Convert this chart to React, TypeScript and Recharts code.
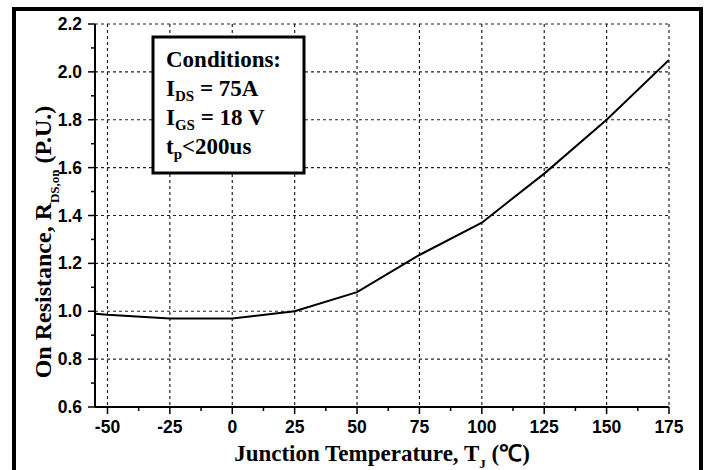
import React from 'react';
import { LineChart, Line, XAxis, YAxis, CartesianGrid } from 'recharts';

const temps = [-55, -50, -25, 0, 25, 50, 75, 100, 125, 150, 175];
const rdsOn = [0.99, 0.985, 0.97, 0.97, 1.0, 1.08, 1.235, 1.37, 1.575, 1.8, 2.05];

const xMajor = [-50, -25, 0, 25, 50, 75, 100, 125, 150, 175];
const xMinor = [-37.5, -12.5, 12.5, 37.5, 62.5, 87.5, 112.5, 137.5, 162.5];
const yMajor = [0.6, 0.8, 1.0, 1.2, 1.4, 1.6, 1.8, 2.0, 2.2];
const yMinor = [0.7, 0.9, 1.1, 1.3, 1.5, 1.7, 1.9, 2.1];

const data = temps.map((t, i) => ({ t, r: rdsOn[i] }));

const tickFont = { fontFamily: '"Liberation Sans", Arial, sans-serif', fontWeight: 700, fontSize: 17.5, fill: '#000' };
const serif = '"Liberation Serif", "Times New Roman", serif';

const XTick = (props: any) => {
    const { x, y, payload } = props;
    const major = xMajor.includes(payload.value);
    return (
        <g>
            <line x1={x} x2={x} y1={y} y2={y + (major ? 7 : 4)} stroke="#000" strokeWidth={1.5} />
            {major && (
                <text x={x} y={y + 26} textAnchor="middle" style={tickFont}>
                    {payload.value}
                </text>
            )}
        </g>
    );
};

const YTick = (props: any) => {
    const { x, y, payload } = props;
    const major = yMajor.includes(payload.value);
    return (
        <g>
            <line x1={x} x2={x - (major ? 7 : 4)} y1={y} y2={y} stroke="#000" strokeWidth={1.5} />
            {major && (
                <text x={x - 13} y={y + 6} textAnchor="end" style={tickFont}>
                    {payload.value.toFixed(1)}
                </text>
            )}
        </g>
    );
};

export default function App() {
    return (
        <div style={{ position: 'absolute', left: 0, top: 0, width: 711, height: 470, overflow: 'hidden', background: '#fff' }}>
            <div style={{ position: 'absolute', left: 12, top: 7, width: 691, height: 490, border: '4px solid #000', boxSizing: 'border-box' }} />
            <LineChart width={711} height={470} data={data} margin={{ top: 24, right: 42, bottom: 0, left: 0 }}>
                <CartesianGrid
                    stroke="#222"
                    strokeWidth={1.2}
                    strokeDasharray="3 3"
                    horizontalValues={yMajor}
                    verticalValues={xMajor}
                />
                <XAxis
                    dataKey="t"
                    type="number"
                    domain={[-55, 175]}
                    ticks={[...xMajor, ...xMinor].sort((a, b) => a - b)}
                    interval={0}
                    height={63}
                    tickSize={0}
                    tickMargin={0}
                    tickLine={false}
                    axisLine={{ stroke: '#000', strokeWidth: 2 }}
                    tick={<XTick />}
                    allowDataOverflow
                />
                <YAxis
                    type="number"
                    domain={[0.6, 2.2]}
                    ticks={[...yMajor, ...yMinor].sort((a, b) => a - b)}
                    interval={0}
                    width={95}
                    tickSize={0}
                    tickMargin={0}
                    tickLine={false}
                    axisLine={{ stroke: '#000', strokeWidth: 2 }}
                    tick={<YTick />}
                    allowDataOverflow
                />
                <Line
                    dataKey="r"
                    type="linear"
                    stroke="#000"
                    strokeWidth={2}
                    dot={false}
                    isAnimationActive={false}
                />
            </LineChart>
            <svg width={711} height={470} style={{ position: 'absolute', left: 0, top: 0, pointerEvents: 'none' }}>
                <text
                    transform="translate(51, 242) rotate(-90)"
                    textAnchor="middle"
                    fontFamily={serif}
                    fontWeight={700}
                    fontSize={24}
                    fill="#000"
                >
                    On Resistance, R
                    <tspan fontSize={13} dy={8}>DS,on</tspan>
                    <tspan dy={-8}> (P.U.)</tspan>
                </text>
                <text x={382} y={461} textAnchor="middle" fontFamily={serif} fontWeight={700} fontSize={23} fill="#000">
                    Junction Temperature, T
                    <tspan fontSize={13} dy={7}>J</tspan>
                    <tspan dy={-7}> (℃)</tspan>
                </text>
                <rect x={153} y={37} width={151} height={136} fill="#fff" stroke="#000" strokeWidth={3} />
                <g fontFamily={serif} fontWeight={700} fontSize={23} fill="#000">
                    <text x={166} y={67}>Conditions:</text>
                    <text x={166} y={96}>
                        I<tspan fontSize={15} dy={5}>DS</tspan>
                        <tspan dy={-5}> = 75A</tspan>
                    </text>
                    <text x={166} y={125}>
                        I<tspan fontSize={15} dy={5}>GS</tspan>
                        <tspan dy={-5}> = 18 V</tspan>
                    </text>
                    <text x={166} y={154}>
                        t<tspan fontSize={15} dy={5}>p</tspan>
                        <tspan dy={-5}>&lt;200us</tspan>
                    </text>
                </g>
            </svg>
        </div>
    );
}
